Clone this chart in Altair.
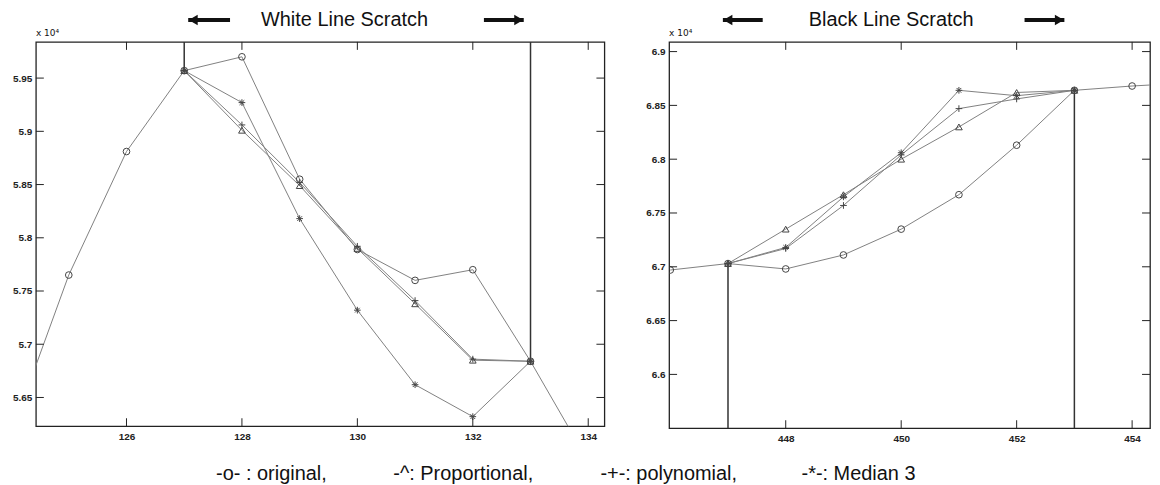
import altair as alt
import pandas as pd

# ---------------- White Line Scratch (left panel), values in units of 1e4 ----------------
W_X_ORIG = [124, 125, 126, 127, 128, 129, 130, 131, 132, 133, 134]
W_ORIG = [5.616, 5.765, 5.881, 5.957, 5.970, 5.855, 5.789, 5.760, 5.770, 5.684, 5.590]
W_X_FIX = [127, 128, 129, 130, 131, 132, 133]
W_PROP = [5.957, 5.901, 5.849, 5.790, 5.738, 5.685, 5.684]
W_POLY = [5.957, 5.906, 5.852, 5.792, 5.741, 5.686, 5.684]
W_MED = [5.957, 5.927, 5.818, 5.732, 5.662, 5.632, 5.684]
W_SCRATCH_X = [127, 133]
W_SCRATCH_Y = [5.957, 5.684]
W_XTICKS = [126, 128, 130, 132, 134]
W_YTICKS = [5.65, 5.7, 5.75, 5.8, 5.85, 5.9, 5.95]
W_XDOM = [124.43, 134.28]
W_YDOM = [5.623, 5.984]

# ---------------- Black Line Scratch (right panel) ----------------
B_X_ORIG = [446, 447, 448, 449, 450, 451, 452, 453, 454, 455]
B_ORIG = [6.697, 6.703, 6.698, 6.711, 6.735, 6.767, 6.813, 6.864, 6.868, 6.871]
B_X_FIX = [447, 448, 449, 450, 451, 452, 453]
B_PROP = [6.703, 6.735, 6.767, 6.800, 6.830, 6.862, 6.864]
B_POLY = [6.703, 6.717, 6.757, 6.804, 6.847, 6.856, 6.864]
B_MED = [6.703, 6.718, 6.765, 6.806, 6.864, 6.859, 6.864]
B_SCRATCH_X = [447, 453]
B_SCRATCH_Y = [6.703, 6.864]
B_XTICKS = [448, 450, 452, 454]
B_YTICKS = [6.6, 6.65, 6.7, 6.75, 6.8, 6.85, 6.9]
B_XDOM = [445.98, 454.31]
B_YDOM = [6.550, 6.909]

SERIES = ["original", "Proportional", "polynomial", "Median 3"]
LEGEND_TEXT = ["-o- : original,", "-^: Proportional,", "-+-: polynomial,", "-*-: Median 3"]
PLUS = "M-1,0L1,0M0,-1L0,1"
STAR = "M-1,0L1,0M0,-1L0,1M-0.7,-0.7L0.7,0.7M-0.7,0.7L0.7,-0.7"
SHAPES = ["circle", "triangle-up", PLUS, STAR]

FONT = "Liberation Sans"


def one_row():
    return pd.DataFrame({"a": [0]})


def text_layer(txt, x, y, size, font=FONT, align="left"):
    return alt.Chart(pd.DataFrame({"t": [txt]})).mark_text(
        align=align, baseline="middle", fontSize=size, font=font, color="#111"
    ).encode(x=alt.value(x), y=alt.value(y), text="t:N")


def arrow(x1, x2, y, direction):
    bar = alt.Chart(one_row()).mark_rule(color="#111", strokeWidth=4).encode(
        x=alt.value(x1), x2=alt.value(x2), y=alt.value(y)
    )
    hx = x1 + 5 if direction == "left" else x2 - 5
    head = alt.Chart(one_row()).mark_point(
        shape="triangle-" + direction, filled=True, size=110, color="#111", opacity=1
    ).encode(x=alt.value(hx), y=alt.value(y))
    return [bar, head]


def panel(xo, yo, xf, prop, poly, med, sx, sy, sedge, xticks, yticks, xdom, ydom, W, H, deco):
    rows = [{"x": a, "y": b, "s": "original"} for a, b in zip(xo, yo)]
    for name, vals in zip(SERIES[1:], [prop, poly, med]):
        rows += [{"x": a, "y": b, "s": name} for a, b in zip(xf, vals)]
    df = pd.DataFrame(rows)

    x_enc = alt.X(
        "x:Q",
        scale=alt.Scale(domain=xdom, nice=False, zero=False),
        axis=alt.Axis(values=xticks, format="d", ticks=False, domain=False, grid=False,
                      labelFont=FONT, labelFontSize=10, labelFontWeight="bold",
                      labelColor="#222", labelPadding=5, title=None),
    )
    y_enc = alt.Y(
        "y:Q",
        scale=alt.Scale(domain=ydom, nice=False, zero=False),
        axis=alt.Axis(values=yticks, format=".3~r", ticks=False, domain=False, grid=False,
                      labelFont=FONT, labelFontSize=10, labelFontWeight="bold",
                      labelColor="#222", labelPadding=4, title=None),
    )

    lines = alt.Chart(df).mark_line(color="#808080", strokeWidth=1, clip=True).encode(
        x=x_enc, y=y_enc, detail="s:N", order="x:Q"
    )
    points = alt.Chart(df).mark_point(
        filled=False, size=45, strokeWidth=1, color="#454545", clip=True, opacity=1
    ).encode(
        x=x_enc, y=y_enc,
        shape=alt.Shape("s:N", scale=alt.Scale(domain=SERIES, range=SHAPES), legend=None),
    )
    sdf = pd.DataFrame({"x": sx, "y": sy, "y2": [sedge] * len(sx)})
    scratch = alt.Chart(sdf).mark_rule(color="#333", strokeWidth=1.5).encode(
        x=x_enc, y=y_enc, y2="y2:Q"
    )

    xt = pd.DataFrame({"x": xticks})
    yt = pd.DataFrame({"y": yticks})
    tick_b = alt.Chart(xt).mark_rule(color="#222").encode(x=x_enc, y=alt.value(H), y2=alt.value(H - 8))
    tick_t = alt.Chart(xt).mark_rule(color="#222").encode(x=x_enc, y=alt.value(0), y2=alt.value(8))
    tick_l = alt.Chart(yt).mark_rule(color="#222").encode(y=y_enc, x=alt.value(0), x2=alt.value(8))
    tick_r = alt.Chart(yt).mark_rule(color="#222").encode(y=y_enc, x=alt.value(W - 8), x2=alt.value(W))

    layers = [lines, scratch, points, tick_b, tick_t, tick_l, tick_r] + deco
    return alt.layer(*layers).properties(width=W, height=H)


LW, LH = 571, 386
RW, RH = 483, 388

left_deco = (
    [text_layer("White Line Scratch", 310, -22, 20, align="center")]
    + arrow(153, 195, -22, "left")
    + arrow(450, 490, -22, "right")
    + [text_layer("x 10\u2074", 0, -9, 9, font="DejaVu Sans")]
    + [
        text_layer(LEGEND_TEXT[0], 181, 434, 20),
        text_layer(LEGEND_TEXT[1], 359, 434, 20),
        text_layer(LEGEND_TEXT[2], 567, 434, 20),
        text_layer(LEGEND_TEXT[3], 769, 434, 20),
    ]
)
right_deco = (
    [text_layer("Black Line Scratch", 223, -22, 20, align="center")]
    + arrow(54, 94, -22, "left")
    + arrow(357, 397, -22, "right")
    + [text_layer("x 10\u2074", 0, -9, 9, font="DejaVu Sans")]
)

left = panel(W_X_ORIG, W_ORIG, W_X_FIX, W_PROP, W_POLY, W_MED, W_SCRATCH_X, W_SCRATCH_Y,
             W_YDOM[1], W_XTICKS, W_YTICKS, W_XDOM, W_YDOM, LW, LH, left_deco)
right = panel(B_X_ORIG, B_ORIG, B_X_FIX, B_PROP, B_POLY, B_MED, B_SCRATCH_X, B_SCRATCH_Y,
              B_YDOM[0], B_XTICKS, B_YTICKS, B_XDOM, B_YDOM, RW, RH, right_deco)

chart = (
    alt.hconcat(left, right, spacing=65, bounds="flush")
    .properties(padding={"left": 3, "top": 0, "right": 0, "bottom": 0}, background="white")
    .configure_view(stroke="#222", strokeWidth=1.3)
)

chart.save("out.html", embed_options={"renderer": "svg", "actions": False})
